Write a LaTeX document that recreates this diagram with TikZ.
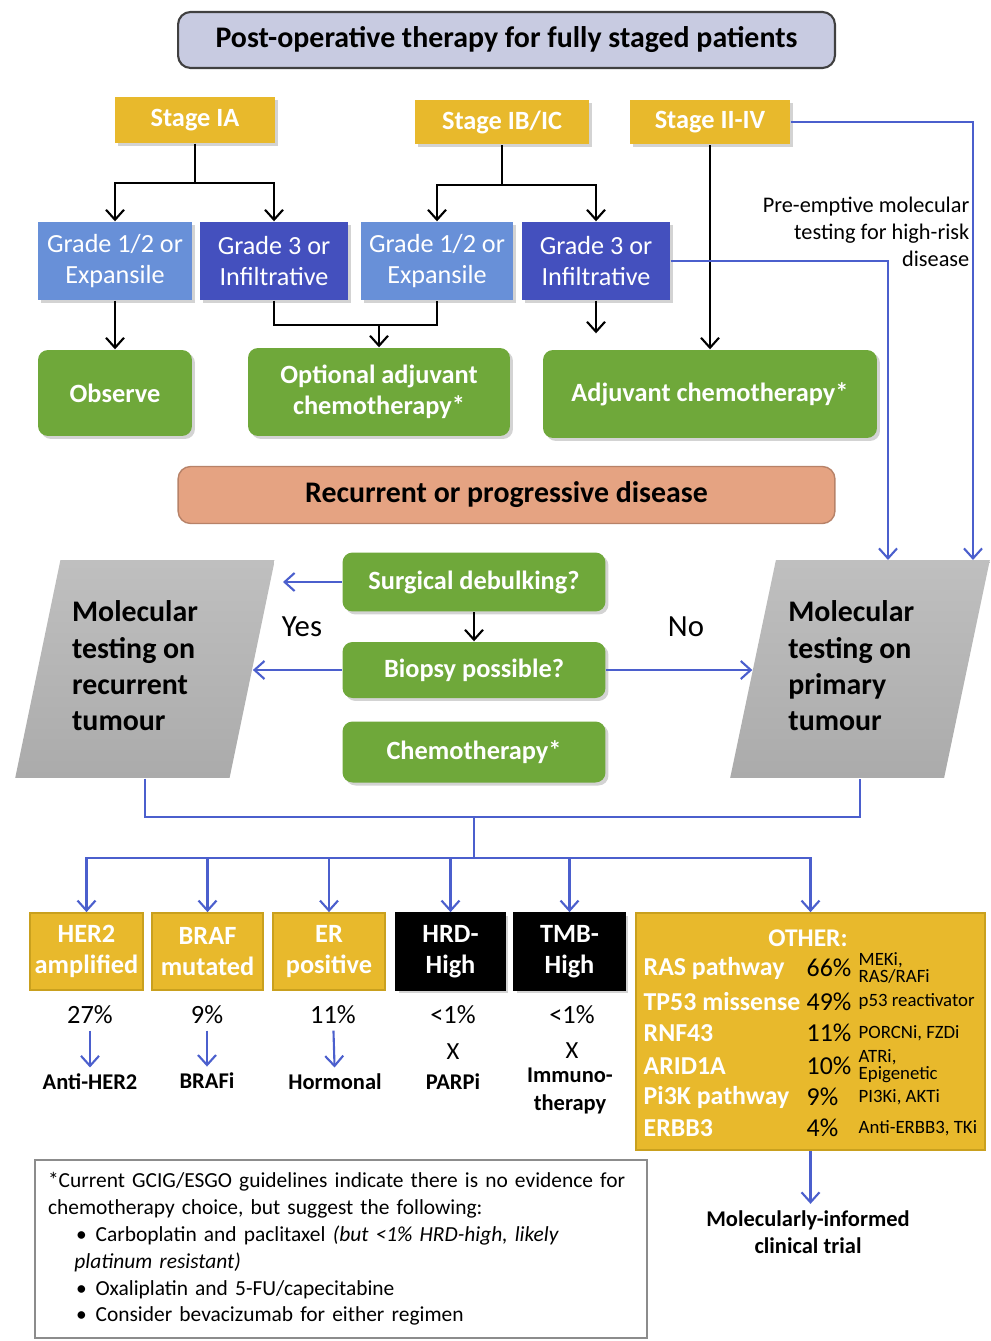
\documentclass[tikz,border=0pt]{standalone}
\usepackage{fontspec}
\setmainfont{Carlito}
\usetikzlibrary{shapes.geometric,positioning,arrows.meta,shadows}
\newcommand{\fsz}[2]{\fontsize{#1}{#2}\selectfont}
\definecolor{gold}{HTML}{E8B92C}
\definecolor{goldd}{HTML}{C9A01E}
\definecolor{lblue}{HTML}{6890D8}
\definecolor{dblue}{HTML}{4450BE}
\definecolor{lgreen}{HTML}{6FA83A}
\definecolor{lavender}{HTML}{C8CBE1}
\definecolor{salmon}{HTML}{E5A382}
\definecolor{bluel}{HTML}{4B5FCD}

\begin{document}
\begin{tikzpicture}
        [x=0.02cm, y=-0.02cm, thick,
         shadowed/.style={drop shadow={opacity=0.35, shadow xshift=0.06cm, shadow yshift=-0.06cm}},
         kline/.style={black, line width=1.2pt},
         karr/.style={kline, -{Straight Barb[length=2mm,width=3.6mm]}},
         bline/.style={bluel, line width=1.2pt},
         barr/.style={bline, -{Straight Barb[length=2mm,width=3.6mm]}},
         head/.style={draw=black!75, line width=1.2pt, rounded corners=0.25cm, minimum width=13.14cm, inner sep=0pt},
         stage/.style={fill=gold, text=white, font=\fsz{15}{18}\bfseries, minimum height=0.92cm, inner sep=0pt, shadowed},
         grade/.style={fill=lblue, text=white, font=\fsz{14.9}{17.6}, align=center, minimum height=1.56cm, inner sep=0pt, shadowed},
         gradeh/.style={grade, fill=dblue},
         treat/.style={fill=lgreen, text=white, font=\fsz{15}{17.6}\bfseries, align=center, rounded corners=0.2cm, inner sep=0pt, shadowed},
         moltest/.style={trapezium, trapezium left angle=75, trapezium right angle=105, trapezium stretches=true,
                         top color=black!25, bottom color=black!33, minimum width=5.2cm, minimum height=4.36cm,
                         inner sep=0pt, font=\fsz{17}{20.7}\bfseries},
         marker/.style={fill=gold, draw=goldd, line width=1pt, text=white, font=\fsz{15}{17.6}\bfseries, align=center, minimum height=1.54cm, inner sep=0pt},
         markerk/.style={marker, fill=black, draw=black, shadowed},
         pct/.style={font=\fsz{15}{17}},
         drug/.style={font=\fsz{12.8}{15.5}\bfseries, align=center},
         gene/.style={text=white, font=\fsz{14.7}{16}\bfseries, inner sep=0pt, anchor=west},
         gpct/.style={font=\fsz{14.7}{16}, inner sep=0pt, anchor=west},
         gdrug/.style={font=\fsz{10.7}{7.6}, align=left, inner sep=0pt, anchor=west}]

        \useasboundingbox (0,0) rectangle (990,1341);

        \node [head, fill=lavender, minimum height=1.12cm, font=\fsz{17}{20}\bfseries] (top) at (506.5,40) {Post-operative therapy for fully staged patients};

        \node [stage, minimum width=3.2cm]                      (s1) at (195,120) {Stage IA};
        \node [stage, minimum width=3.5cm, minimum height=0.9cm] (s2) at (502,122) {Stage IB/IC};
        \node [stage, minimum width=3.2cm, minimum height=0.9cm] (s3) at (710,122) {Stage II-IV};

        \node [grade,  minimum width=3.08cm] (g1) at (115,261) {Grade 1/2 or\\Expansile};
        \node [gradeh, minimum width=2.96cm] (g2) at (274,261) {Grade 3 or\\Infiltrative};
        \node [grade,  minimum width=3.06cm] (g3) at (437,261) {Grade 1/2 or\\Expansile};
        \node [gradeh, minimum width=2.96cm] (g4) at (596,261) {Grade 3 or\\Infiltrative};

        \node [treat, minimum width=3.08cm, minimum height=1.72cm] (obs) at (115,393) {Observe};
        \node [treat, minimum width=5.24cm, minimum height=1.76cm] (opt) at (379,392) {Optional adjuvant\\chemotherapy*};
        \node [treat, minimum width=6.68cm, minimum height=1.76cm] (adj) at (710,394) {Adjuvant chemotherapy*};

        \node [anchor=east, align=right, inner sep=0pt, font=\fsz{12.7}{15.3}] (pre) at (970,232) {Pre-emptive molecular\\testing for high-risk\\disease};

        \node [head, fill=salmon, draw=salmon!80!black, line width=0.8pt, minimum height=1.14cm, font=\fsz{17}{20}\bfseries] (rec) at (506.5,495) {Recurrent or progressive disease};

        \node [treat, minimum width=5.26cm, minimum height=1.18cm] (surg)  at (474,582) {Surgical debulking?};
        \node [treat, minimum width=5.26cm, minimum height=1.12cm] (biop)  at (474,670) {Biopsy possible?};
        \node [treat, minimum width=5.26cm, minimum height=1.22cm] (chemo) at (474,752) {Chemotherapy*};

        \node [moltest] (molrec) at (145,669) {\begin{tabular}{@{}l@{\hspace{0.4cm}}}Molecular\\testing on\\recurrent\\tumour\end{tabular}};
        \node [moltest] (molpri) at (860,669) {\begin{tabular}{@{}l@{\hspace{0.35cm}}}Molecular\\testing on\\primary\\tumour\end{tabular}};

        \node [font=\fsz{17.5}{20}] (yes) at (302,627) {Yes};
        \node [font=\fsz{17.5}{20}] (no)  at (686,627) {No};

        \node [marker,  minimum width=2.26cm] (her2) at (86.5,951.5)  {HER2\\amplified};
        \node [marker,  minimum width=2.22cm] (braf) at (207.5,951.5) {BRAF\\mutated};
        \node [marker,  minimum width=2.24cm] (er)   at (329,951.5)   {ER\\positive};
        \node [markerk, minimum width=2.18cm] (hrd)  at (450.5,951.5) {HRD-\\High};
        \node [markerk, minimum width=2.22cm] (tmb)  at (569.5,951.5) {TMB-\\High};
        \node [marker,  minimum width=6.98cm, minimum height=4.74cm] (oth) at (810.5,1031.5) {};

        \node [text=white, font=\fsz{14.5}{16}\bfseries] (othl) at (808,938) {OTHER:};
        \foreach \y/\gn/\pc/\dr [count=\i] in {
                968/RAS pathway/66\%/{MEKi,\\RAS/RAFi},
                1002/TP53 missense/49\%/p53 reactivator,
                1033/RNF43/11\%/{PORCNi, FZDi},
                1066/ARID1A/10\%/{ATRi,\\Epigenetic},
                1097/Pi3K pathway/9\%/{PI3Ki, AKTi},
                1128/ERBB3/4\%/{Anti-ERBB3, TKi}}
        {
                \node [gene]  (gn\i) at (643,\y) {\gn};
                \node [gpct]  (pc\i) at (806,\y) {\pc};
                \node [gdrug] (dr\i) at (858,\y) {\dr};
        }

        \node [pct] (p1) at (90,1015)  {27\%};
        \node [pct] (p2) at (207,1015) {9\%};
        \node [pct] (p3) at (333,1015) {11\%};
        \node [pct] (p4) at (453,1015) {<1\%};
        \node [pct] (p5) at (572,1015) {<1\%};

        \node [pct, inner sep=0pt, font=\fsz{14}{16}] (x4) at (453,1052) {X};
        \node [pct, inner sep=0pt, font=\fsz{14}{16}] (x5) at (572,1051) {X};

        \node [drug] (d1) at (90,1082)  {Anti-HER2};
        \node [drug] (d2) at (207,1081) {BRAFi};
        \node [drug] (d3) at (335,1082) {Hormonal};
        \node [drug] (d4) at (453,1082) {PARPi};
        \node [drug, inner sep=0pt] (d5) at (570,1091) {Immuno-\\therapy};

        \node [drug] (trial) at (808,1232) {Molecularly-informed\\clinical trial};

        \node [draw=black!45, line width=1pt, minimum width=12.24cm, minimum height=3.56cm, text width=11.72cm,
               inner xsep=0.26cm, align=left, font=\fsz{12.2}{15.3}] (note) at (341,1249)
              {*Current GCIG/ESGO guidelines indicate there is no evidence for\\
               chemotherapy choice, but suggest the following:\\
               \hspace*{16pt}\textbullet\hspace{5pt}Carboplatin and paclitaxel \textit{(but <1\% HRD-high, likely}\\
               \hspace*{15pt}\textit{platinum resistant)}\\
               \hspace*{16pt}\textbullet\hspace{5pt}Oxaliplatin and 5-FU/capecitabine\\
               \hspace*{16pt}\textbullet\hspace{5pt}Consider bevacizumab for either regimen};

        \coordinate (ja) at (195,183);
        \coordinate (jb) at (502,185);
        \coordinate (jo) at (379,325);
        \coordinate (c1) at (973,560);
        \coordinate (c2) at (888,560);
        \coordinate (ys) at (283,582);
        \coordinate (j1) at (474,817);
        \coordinate (j2) at (474,858);

        \draw[kline] (s1) -- (ja);
        \draw[karr]  (ja) -| (g1);
        \draw[karr]  (ja) -| (g2);
        \draw[kline] (s2) -- (jb);
        \draw[karr]  (jb) -| (g3);
        \draw[karr]  (jb) -| (g4);
        \draw[karr]  (s3) -- (adj);

        \draw[karr]  (g1) -- (obs);
        \draw[kline] (g2.south) |- (jo) -| (g3.south);
        \draw[karr]  (jo) -- (opt);
        \draw[karr, shorten >=0.32cm] (g4.south) -- (g4.south |- adj.north);

        \draw[barr] (s3.east) -| (c1);
        \draw[barr] (g4.east) -| (c2);

        \draw[barr] (surg.west) -- (ys);
        \draw[karr] (surg) -- (biop);
        \draw[barr] (biop.west) -- (biop.west -| molrec.east);
        \draw[barr] (biop.east) -- (biop.east -| molpri.west);

        \draw[bline] (molrec.south) |- (j1) -| (molpri.south);
        \draw[bline] (j1) -- (j2);
        \draw[barr] (j2) -| (her2);
        \draw[barr] (j2) -| (braf);
        \draw[barr] (j2) -| (er);
        \draw[barr] (j2) -| (hrd);
        \draw[barr] (j2) -| (tmb);
        \draw[barr] (j2) -| (oth);

        \draw[barr] (p1) -- (d1);
        \draw[barr] (p2) -- (d2);
        \draw[barr] (p3) -- (d3);

        \draw[barr] (oth.south) -- (oth.south |- trial.north);

\end{tikzpicture}
\end{document}
